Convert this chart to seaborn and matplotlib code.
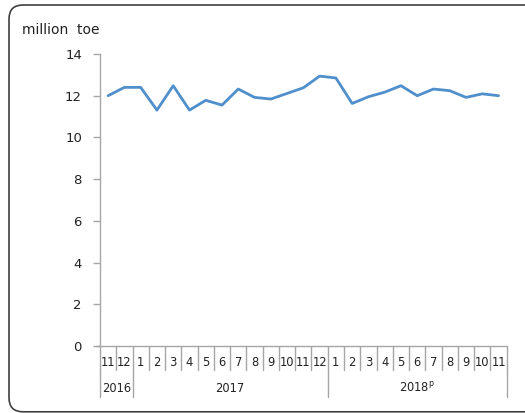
import matplotlib
matplotlib.use("Agg")
import matplotlib.pyplot as plt
import matplotlib.transforms as mtransforms
from matplotlib.patches import FancyBboxPatch
import seaborn as sns
import pandas as pd

months = ["11", "12", "1", "2", "3", "4", "5", "6", "7", "8", "9", "10", "11", "12",
          "1", "2", "3", "4", "5", "6", "7", "8", "9", "10", "11"]
values = [12.0, 12.4, 12.4, 11.31, 12.48, 11.31, 11.78, 11.55, 12.32, 11.92, 11.84, 12.11,
          12.38, 12.94, 12.85, 11.63, 11.95, 12.17, 12.48, 12.0, 12.32, 12.24, 11.92, 12.09, 12.0]
years = ["2016", "2017", r"2018$^{\mathrm{p}}$"]
year_counts = [2, 12, 11]
yticks = [0, 2, 4, 6, 8, 10, 12, 14]

sns.set_theme(style="white")
plt.rcParams['font.family'] = ['DejaVu Sans']

df = pd.DataFrame({"idx": range(len(values)), "value": values})

fig = plt.figure(figsize=(5.25, 4.13), dpi=100)
ax = fig.add_axes([100 / 525, 1 - 346 / 413, 406.7 / 525, 292 / 413])

sns.lineplot(data=df, x="idx", y="value", ax=ax, color="#4F8FCB", linewidth=2.0)

grey = "#A6A6A6"
ax.set_xlim(-0.5, len(values) - 0.5)
ax.set_ylim(0, 14)
ax.set_yticks(yticks)
ax.set_yticklabels([str(v) for v in yticks], fontsize=9.5, color="#222222")
ax.tick_params(axis="y", length=5, color=grey, width=1, pad=8, left=True)
ax.set_xticks([])
ax.set_xlabel("")
ax.set_ylabel("")
for s in ["top", "right"]:
    ax.spines[s].set_visible(False)
for s in ["left", "bottom"]:
    ax.spines[s].set_color(grey)
    ax.spines[s].set_linewidth(1)

trans = mtransforms.blended_transform_factory(ax.transData, ax.transAxes)
h = 292.0
y_month = -24 / h
y_year = -51 / h

# month separators and labels
for i in range(len(values) + 1):
    ax.plot([i - 0.5, i - 0.5], [0, y_month], transform=trans, color=grey, lw=1, clip_on=False)
for i, m in enumerate(months):
    ax.text(i, -17 / h, m, transform=trans, ha="center", va="center", fontsize=8.3, color="#222222")

# year separators and labels
start = 0
bounds = [0]
for c in year_counts:
    start += c
    bounds.append(start)
for b in bounds:
    ax.plot([b - 0.5, b - 0.5], [y_month, y_year], transform=trans, color=grey, lw=1, clip_on=False)
for k, y in enumerate(years):
    center = (bounds[k] + bounds[k + 1] - 1) / 2
    ax.text(center, -42 / h, y, transform=trans, ha="center", va="center", fontsize=8.3, color="#222222")

# x-axis tick extension on the left
ax.plot([-0.5 - 4 / 16.27, -0.5], [0, 0], transform=trans, color=grey, lw=1, clip_on=False)

fig.text(22 / 525, 1 - 30 / 413, "million  toe", fontsize=10, color="#222222", va="center", ha="left")

# rounded border, in inches
border = FancyBboxPatch((0.09, 0.012), 5.6, 4.13 - 0.05 - 0.012,
                        boxstyle="round,pad=0,rounding_size=0.14",
                        transform=fig.dpi_scale_trans, fill=False, edgecolor="#404040", linewidth=1.2)
fig.patches.append(border)

fig.savefig("out.png", dpi=100)
